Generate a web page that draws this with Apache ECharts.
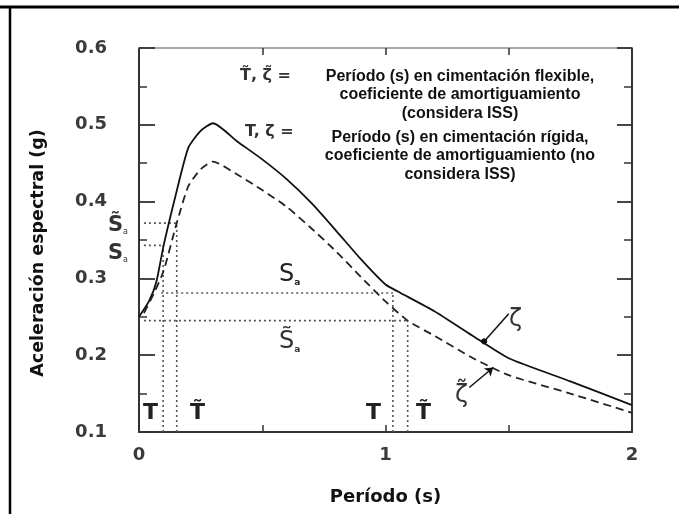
<!DOCTYPE html>
<html>
<head>
<meta charset="utf-8">
<script src="https://cdn.jsdelivr.net/npm/echarts@6/dist/echarts.min.js"></script>
<style>html,body{margin:0;padding:0;background:#fff}#c{width:679px;height:514px}</style>
</head>
<body>
<div id="c"></div>
<script>
// ---- data ----
const periodRigid = [0,0.04,0.07,0.1,0.15,0.2,0.25,0.3,0.4,0.5,0.6,0.7,0.8,0.9,1.0,1.05,1.2,1.35,1.5,1.75,2.0];
const accelRigid  = [0.25,0.27,0.295,0.343,0.41,0.47,0.492,0.502,0.478,0.455,0.429,0.398,0.362,0.325,0.292,0.283,0.257,0.226,0.196,0.166,0.135];
const periodFlex  = [0.02,0.06,0.1,0.153,0.2,0.25,0.3,0.4,0.5,0.6,0.7,0.8,0.9,1.0,1.09,1.2,1.35,1.5,1.75,2.0];
const accelFlex   = [0.255,0.28,0.31,0.372,0.42,0.442,0.452,0.435,0.415,0.393,0.365,0.335,0.302,0.27,0.245,0.225,0.197,0.174,0.15,0.125];
// reference (dotted) lines: [x1,y1,x2,y2]
const refLines = [
  [0.02,0.372,0.153,0.372],
  [0.02,0.343,0.098,0.343],
  [0.09,0.281,1.03,0.281],
  [0.02,0.245,1.09,0.245],
  [0.098,0.1,0.098,0.343],
  [0.153,0.1,0.153,0.372],
  [1.03,0.1,1.03,0.281],
  [1.09,0.1,1.09,0.245]
];
// arrows: [xTail,yTail,xHead,yHead]
const arrowZeta = [1.50,0.254,1.40,0.218];
const arrowZetaFlex = [1.34,0.158,1.437,0.184];
const xTickLabels = ['0','1','2'];
const yTickLabels = ['0.1','0.2','0.3','0.4','0.5','0.6'];

const chart = echarts.init(document.getElementById('c'), null, {renderer:'canvas'});
const zip = (a,b)=>a.map((v,i)=>[v,b[i]]);

const refSeries = refLines.map(l=>({
  type:'line', data:[[l[0],l[1]],[l[2],l[3]]], symbol:'none', silent:true,
  lineStyle:{color:'#555', width:1.6, type:[2,3]}, z:1
}));

const tickFont = {fontFamily:'DejaVu Sans', fontSize:18, fontWeight:'bold', color:'#3a3a3a'};
const txt = (x,y,text,font,fill,extra)=>({type:'text', x:x, y:y, style:Object.assign({text:text, font:font, fill:fill}, extra||{})});

chart.setOption({
  animation:false,
  grid:{left:139, right:47, top:48, bottom:82},
  xAxis:[{
    type:'value', min:0, max:2, interval:0.5, position:'bottom',
    axisLine:{onZero:false, lineStyle:{color:'#333', width:2}},
    axisTick:{inside:true, length:7, lineStyle:{color:'#333', width:1.5}},
    axisLabel:Object.assign({margin:14, formatter:v=>{const i=xTickLabels.indexOf(String(v));return i>=0?xTickLabels[i]:'';}}, tickFont),
    splitLine:{show:false},
    name:'Período (s)', nameLocation:'middle', nameGap:56,
    nameTextStyle:{fontFamily:'DejaVu Sans', fontSize:18, fontWeight:'bold', color:'#111'}
  },{
    type:'value', min:0, max:2, interval:0.5, position:'top',
    axisLine:{onZero:false, lineStyle:{color:'#aaa', width:2}},
    axisTick:{inside:true, length:7, lineStyle:{color:'#333', width:1.5}},
    axisLabel:{show:false}, splitLine:{show:false}
  }],
  yAxis:[{
    type:'value', min:0.1, max:0.6, interval:0.1, position:'left',
    axisLine:{onZero:false, lineStyle:{color:'#333', width:2}},
    axisTick:{inside:true, length:16, lineStyle:{color:'#333', width:1.8}},
    minorTick:{show:true, splitNumber:2, length:8, lineStyle:{color:'#333', width:1.5}},
    axisLabel:Object.assign({margin:32, formatter:v=>{const s=v.toFixed(1);return yTickLabels.includes(s)?s:'';}}, tickFont),
    splitLine:{show:false},
    name:'Aceleración espectral (g)', nameLocation:'middle', nameGap:92,
    nameTextStyle:{fontFamily:'DejaVu Sans', fontSize:17.5, fontWeight:'bold', color:'#111', padding:[0,26,0,0]}
  },{
    type:'value', min:0.1, max:0.6, interval:0.1, position:'right',
    axisLine:{onZero:false, lineStyle:{color:'#333', width:2}},
    axisTick:{inside:true, length:15, lineStyle:{color:'#333', width:1.8}},
    minorTick:{show:true, splitNumber:2, length:8, lineStyle:{color:'#333', width:1.5}},
    axisLabel:{show:false}, splitLine:{show:false}
  }],
  series:[
    {type:'line', name:'rigid', data:zip(periodRigid,accelRigid), symbol:'none', smooth:0.2,
     lineStyle:{color:'#111', width:1.8}, z:3,
     markLine:{silent:true, symbol:['none','circle'], symbolSize:6, label:{show:false},
       lineStyle:{color:'#111', width:1.5, type:'solid'},
       data:[[{coord:[arrowZeta[0],arrowZeta[1]]},{coord:[arrowZeta[2],arrowZeta[3]]}]]}},
    {type:'line', name:'flex', data:zip(periodFlex,accelFlex), symbol:'none', smooth:0.2,
     lineStyle:{color:'#222', width:1.8, type:[8,5]}, z:3,
     markLine:{silent:true, symbol:['none','arrow'], symbolSize:8, label:{show:false},
       lineStyle:{color:'#111', width:1.5, type:'solid'},
       data:[[{coord:[arrowZetaFlex[0],arrowZetaFlex[1]]},{coord:[arrowZetaFlex[2],arrowZetaFlex[3]]}]]}}
  ].concat(refSeries),
  graphic:[
    {type:'line', shape:{x1:0,y1:7,x2:679,y2:7}, style:{stroke:'#000', lineWidth:3}},
    {type:'line', shape:{x1:10,y1:6,x2:10,y2:514}, style:{stroke:'#000', lineWidth:2.5}},
    txt(240,68,'T̃, ζ̃ =','bold 16px "DejaVu Sans"','#333'),
    txt(245,124,'T, ζ =','bold 16px "DejaVu Sans"','#333'),
    txt(460,67,'Período (s) en cimentación flexible,\ncoeficiente de amortiguamiento\n(considera ISS)','bold 16px "Liberation Sans"','#111',{align:'center', verticalAlign:'top', lineHeight:18.5}),
    txt(460,128,'Período (s) en cimentación rígida,\ncoeficiente de amortiguamiento (no\nconsidera ISS)','bold 16px "Liberation Sans"','#111',{align:'center', verticalAlign:'top', lineHeight:18.5}),
    {type:'text', x:108, y:215, style:{text:'{s|S̃}{a|a}', rich:{s:{fontFamily:'DejaVu Sans',fontSize:21,fill:'#333',fontWeight:'bold'},a:{fontFamily:'DejaVu Sans',fontSize:8,fill:'#333',padding:[13,0,0,0]}}}},
    {type:'text', x:108, y:243, style:{text:'{s|S}{a|a}', rich:{s:{fontFamily:'DejaVu Sans',fontSize:21,fill:'#333',fontWeight:'bold'},a:{fontFamily:'DejaVu Sans',fontSize:8,fill:'#333',padding:[13,0,0,0]}}}},
    {type:'text', x:279, y:263, style:{text:'{s|S}{a|a}', rich:{s:{fontFamily:'DejaVu Sans',fontSize:24,fill:'#222'},a:{fontFamily:'DejaVu Sans',fontSize:9,fill:'#222',fontWeight:'bold',padding:[15,0,0,0]}}}},
    {type:'text', x:279, y:330, style:{text:'{s|S̃}{a|a}', rich:{s:{fontFamily:'DejaVu Sans',fontSize:24,fill:'#333'},a:{fontFamily:'DejaVu Sans',fontSize:9,fill:'#333',fontWeight:'bold',padding:[15,0,0,0]}}}},
    txt(143,402,'T','bold 22px "DejaVu Sans"','#222'),
    txt(190,402,'T̃','bold 22px "DejaVu Sans"','#222'),
    txt(366,402,'T','bold 22px "DejaVu Sans"','#222'),
    txt(416,402,'T̃','bold 22px "DejaVu Sans"','#222'),
    txt(509,308,'ζ','24px "DejaVu Sans"','#333'),
    txt(455,384,'ζ̃','24px "DejaVu Sans"','#333')
  ]
});
</script>
</body>
</html>
